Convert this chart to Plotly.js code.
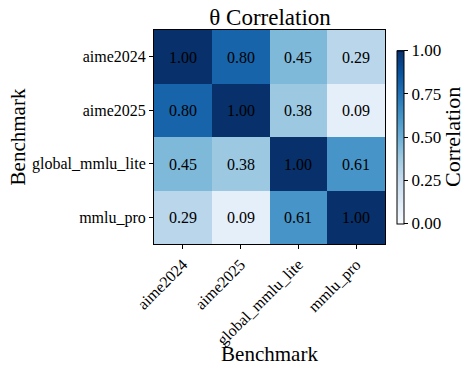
<!DOCTYPE html>
<html>
<head>
<meta charset="utf-8">
<script src="https://cdn.plot.ly/plotly-3.0.1.min.js"></script>
<style>
  html, body { margin: 0; padding: 0; background: #ffffff; }
  #chart { width: 464px; height: 366px; }
</style>
</head>
<body>
<div id="chart"></div>
<script>
// Benchmark names shown on both axes
const benchmarks = ["aime2024", "aime2025", "global_mmlu_lite", "mmlu_pro"];

// Pairwise correlation of theta, one row per benchmark
const rowAime2024 = [1.00, 0.80, 0.45, 0.29];
const rowAime2025 = [0.80, 1.00, 0.38, 0.09];
const rowGlobalMmluLite = [0.45, 0.38, 1.00, 0.61];
const rowMmluPro = [0.29, 0.09, 0.61, 1.00];

const colorbarTicks = [0, 0.25, 0.5, 0.75, 1.0];

const zRows = [rowAime2024, rowAime2025, rowGlobalMmluLite, rowMmluPro];
const labels = zRows.map(r => r.map(v => v.toFixed(2)));

// Sequential blue ramp
const blues = [
  [0.0, "#f7fbff"], [0.125, "#deebf7"], [0.25, "#c6dbef"],
  [0.375, "#9ecae1"], [0.5, "#6baed6"], [0.625, "#4292c6"],
  [0.75, "#2171b5"], [0.875, "#08519c"], [1.0, "#08306b"]
];

const serif = "Liberation Serif, Times New Roman, serif";

const trace = {
  type: "heatmap",
  x: benchmarks,
  y: benchmarks,
  z: zRows,
  text: labels,
  texttemplate: "%{text}",
  textfont: { family: serif, size: 16, color: "#000000" },
  colorscale: blues,
  zmin: 0,
  zmax: 1,
  xgap: 0,
  ygap: 0,
  hoverinfo: "skip",
  colorbar: {
    x: 1.052,
    xanchor: "left",
    xpad: 0,
    y: 0.5,
    yanchor: "middle",
    ypad: 0,
    len: 0.81,
    lenmode: "fraction",
    thickness: 7,
    outlinewidth: 1,
    outlinecolor: "#000000",
    tickmode: "array",
    tickvals: colorbarTicks,
    ticktext: colorbarTicks.map(v => v.toFixed(2)),
    ticks: "outside",
    ticklen: 4,
    tickcolor: "#000000",
    tickfont: { family: serif, size: 17, color: "#000000" }
  }
};

const layout = {
  width: 464,
  height: 366,
  margin: { l: 154, r: 79, t: 30, b: 122 },
  paper_bgcolor: "#ffffff",
  plot_bgcolor: "#ffffff",
  font: { family: serif, color: "#000000" },
  title: {
    text: "θ Correlation",
    font: { family: serif, size: 23, color: "#000000" },
    x: 0.582,
    xanchor: "center",
    y: 0.955,
    yanchor: "middle"
  },
  // colour bar caption, set beside the bar
  annotations: [{
    text: "Correlation",
    xref: "paper",
    yref: "paper",
    x: 1.29,
    y: 0.5,
    xanchor: "center",
    yanchor: "middle",
    textangle: -90,
    showarrow: false,
    font: { family: serif, size: 22, color: "#000000" }
  }],
  xaxis: {
    type: "category",
    tickangle: -45,
    ticks: "outside",
    ticklen: 4,
    tickcolor: "#000000",
    tickfont: { family: serif, size: 16, color: "#000000" },
    showline: true,
    mirror: true,
    linecolor: "#000000",
    linewidth: 1,
    showgrid: false,
    zeroline: false,
    title: {
      text: "Benchmark",
      font: { family: serif, size: 21, color: "#000000" },
      standoff: 6
    }
  },
  yaxis: {
    type: "category",
    autorange: "reversed",
    ticks: "outside",
    ticklen: 4,
    tickcolor: "#000000",
    tickfont: { family: serif, size: 16, color: "#000000" },
    showline: true,
    mirror: true,
    linecolor: "#000000",
    linewidth: 1,
    showgrid: false,
    zeroline: false,
    title: {
      text: "Benchmark",
      font: { family: serif, size: 21, color: "#000000" },
      standoff: 0
    }
  }
};

Plotly.newPlot("chart", [trace], layout, { displayModeBar: false, staticPlot: true });
</script>
</body>
</html>
